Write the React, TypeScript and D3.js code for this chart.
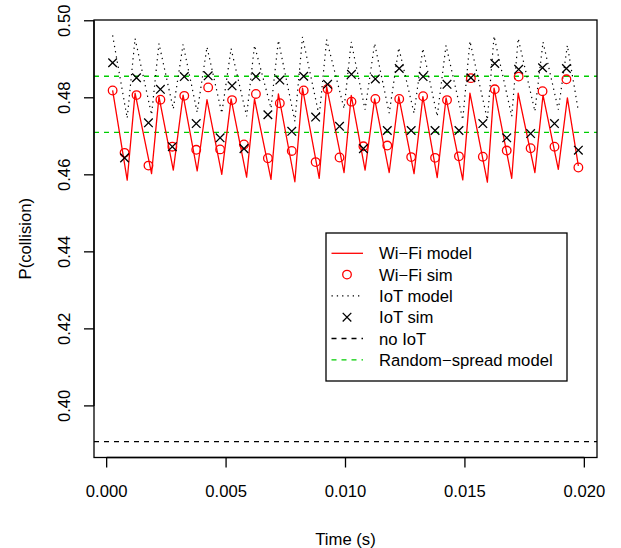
import React from "react";
import * as d3 from "d3";

// ---------- data ----------
const xTicks = [0, 0.005, 0.01, 0.015, 0.02];
const xTickLabels = ["0.000", "0.005", "0.010", "0.015", "0.020"];
const yTicks = [0.4, 0.42, 0.44, 0.46, 0.48, 0.5];
const yTickLabels = ["0.40", "0.42", "0.44", "0.46", "0.48", "0.50"];

// model curve vertex times (peak, trough, peak, ... end)
const modelTimes = [
  0.00025, 0.00086, 0.00119, 0.00188, 0.00219, 0.00279, 0.0032, 0.00379, 0.0042, 0.00482,
  0.00521, 0.00586, 0.00619, 0.00688, 0.00719, 0.00788, 0.0082, 0.0089, 0.00921, 0.00994,
  0.01024, 0.01082, 0.01122, 0.01183, 0.01223, 0.01287, 0.01324, 0.01384, 0.01421, 0.01491,
  0.01521, 0.01594, 0.01622, 0.01696, 0.01723, 0.01793, 0.01827, 0.01891, 0.01929, 0.01975,
];
const wifiModel = [
  0.4819, 0.4586, 0.4812, 0.4603, 0.4803, 0.4612, 0.4807, 0.461, 0.4795, 0.4601,
  0.4797, 0.4594, 0.4797, 0.4588, 0.481, 0.4582, 0.4825, 0.4591, 0.4829, 0.4606,
  0.4806, 0.4612, 0.4797, 0.4606, 0.4803, 0.4603, 0.4803, 0.4593, 0.48, 0.4587,
  0.4812, 0.4581, 0.4825, 0.4591, 0.4812, 0.4606, 0.4807, 0.4614, 0.48, 0.4623,
];
const iotModel = [
  0.4962, 0.4747, 0.4954, 0.4756, 0.4941, 0.4771, 0.4939, 0.4762, 0.4932, 0.476,
  0.4928, 0.4752, 0.4936, 0.4773, 0.4949, 0.4739, 0.4958, 0.4752, 0.4951, 0.4772,
  0.4945, 0.4769, 0.4941, 0.476, 0.493, 0.476, 0.4928, 0.4752, 0.4936, 0.4743,
  0.4947, 0.4743, 0.496, 0.4752, 0.4954, 0.4765, 0.4945, 0.4769, 0.4936, 0.4765,
];

const simTimes = [
  0.00025, 0.00075, 0.00125, 0.00175, 0.00225, 0.00275, 0.00325, 0.00375, 0.00425, 0.00475,
  0.00525, 0.00575, 0.00625, 0.00675, 0.00725, 0.00775, 0.00825, 0.00875, 0.00925, 0.00975,
  0.01025, 0.01075, 0.01125, 0.01175, 0.01225, 0.01275, 0.01325, 0.01375, 0.01425, 0.01475,
  0.01525, 0.01575, 0.01625, 0.01675, 0.01725, 0.01775, 0.01825, 0.01875, 0.01925, 0.01975,
];
const wifiSim = [
  0.4819, 0.4657, 0.4807, 0.4624, 0.4795, 0.4673, 0.4805, 0.4665, 0.4827, 0.4666,
  0.4794, 0.4679, 0.481, 0.4643, 0.4786, 0.4662, 0.4819, 0.4633, 0.4823, 0.4645,
  0.479, 0.4674, 0.4797, 0.4676, 0.4797, 0.4646, 0.4804, 0.4644, 0.4794, 0.4648,
  0.4851, 0.4647, 0.4822, 0.4663, 0.4855, 0.4669, 0.4817, 0.4673, 0.4848, 0.4619,
];
const iotSim = [
  0.4891, 0.4644, 0.4852, 0.4735, 0.4822, 0.4673, 0.4855, 0.4733, 0.4857, 0.4696,
  0.4831, 0.4668, 0.4855, 0.4756, 0.4846, 0.4713, 0.4856, 0.475, 0.4835, 0.4726,
  0.4861, 0.4668, 0.4849, 0.4715, 0.4876, 0.4715, 0.4855, 0.4715, 0.4835, 0.4715,
  0.4852, 0.4733, 0.4889, 0.4696, 0.4874, 0.4707, 0.4878, 0.4733, 0.4876, 0.4664,
];
const noIotLevel = [0.3907];
const randomSpreadLevels = [0.4856, 0.471];

const legendLabels = ["Wi\u2212Fi model", "Wi\u2212Fi sim", "IoT model", "IoT sim", "no IoT", "Random\u2212spread model"];

// ---------- layout ----------
const W = 621;
const H = 548;
const box = { left: 94, right: 597, top: 20, bottom: 457.5 };
const FONT = "'Liberation Sans', Arial, Helvetica, sans-serif";
const FS = 16.67;
const RED = "#FF0000";
const GREEN = "#00CD00";

export default function App() {
  const x = d3.scaleLinear().domain([-0.00053, 0.02053]).range([box.left, box.right]);
  const y = d3.scaleLinear().domain([0.3866, 0.5002]).range([box.bottom, box.top]);

  const line = d3
    .line<number>()
    .x((_, i) => x(modelTimes[i]))
    .y((d) => y(d));

  const crossR = 4.3;
  const circR = 4.3;

  const legendX = 326;
  const legendY = 233;
  const legendW = 241;
  const legendH = 148;
  const rowY = (i: number) => 253.3 + i * 21.3;
  const symX0 = 331.5;
  const symX1 = 363;
  const symXC = 347;
  const textX = 379;

  const cross = (cx: number, cy: number, key: string) => (
    <path
      key={key}
      d={`M${cx - crossR},${cy - crossR}L${cx + crossR},${cy + crossR}M${cx - crossR},${cy + crossR}L${cx + crossR},${cy - crossR}`}
      stroke="#000"
      strokeWidth={1.3}
      fill="none"
    />
  );

  return (
    <svg
      width={W}
      height={H}
      style={{ position: "absolute", left: 0, top: 0, background: "#fff" }}
      fontFamily={FONT}
    >
      <rect x={0} y={0} width={W} height={H} fill="#fff" />
      <defs>
        <clipPath id="plotclip">
          <rect x={box.left} y={box.top} width={box.right - box.left} height={box.bottom - box.top} />
        </clipPath>
      </defs>

      <g clipPath="url(#plotclip)">
        {/* no IoT */}
        {noIotLevel.map((v, i) => (
          <line key={"n" + i} x1={box.left} x2={box.right} y1={y(v)} y2={y(v)} stroke="#000" strokeWidth={1.3} strokeDasharray="5,5" />
        ))}
        {/* random spread */}
        {randomSpreadLevels.map((v, i) => (
          <line key={"g" + i} x1={box.left} x2={box.right} y1={y(v)} y2={y(v)} stroke={GREEN} strokeWidth={1.3} strokeDasharray="5,5" />
        ))}
        {/* IoT model dotted */}
        <path d={line(iotModel) || ""} fill="none" stroke="#000" strokeWidth={1.2} strokeDasharray="1.3,4" />
        {/* Wi-Fi model */}
        <path d={line(wifiModel) || ""} fill="none" stroke={RED} strokeWidth={1.3} strokeLinejoin="round" />
        {/* Wi-Fi sim circles */}
        {wifiSim.map((v, i) => (
          <circle key={"c" + i} cx={x(simTimes[i])} cy={y(v)} r={circR} fill="none" stroke={RED} strokeWidth={1.3} />
        ))}
        {/* IoT sim crosses */}
        {iotSim.map((v, i) => cross(x(simTimes[i]), y(v), "x" + i))}
      </g>

      {/* box */}
      <rect x={box.left} y={box.top} width={box.right - box.left} height={box.bottom - box.top} fill="none" stroke="#000" strokeWidth={1.3} />

      {/* x axis */}
      <line x1={x(xTicks[0])} x2={x(xTicks[xTicks.length - 1])} y1={box.bottom} y2={box.bottom} stroke="#000" strokeWidth={1.3} />
      {xTicks.map((t, i) => (
        <g key={"xt" + i}>
          <line x1={x(t)} x2={x(t)} y1={box.bottom} y2={box.bottom + 10} stroke="#000" strokeWidth={1.3} />
          <text x={x(t)} y={496.5} textAnchor="middle" fontSize={FS} fill="#000">
            {xTickLabels[i]}
          </text>
        </g>
      ))}
      <text x={(box.left + box.right) / 2} y={545} textAnchor="middle" fontSize={FS} fill="#000">
        Time (s)
      </text>

      {/* y axis */}
      <line x1={box.left} x2={box.left} y1={y(yTicks[0])} y2={y(yTicks[yTicks.length - 1])} stroke="#000" strokeWidth={1.3} />
      {yTicks.map((t, i) => (
        <g key={"yt" + i}>
          <line x1={box.left - 10} x2={box.left} y1={y(t)} y2={y(t)} stroke="#000" strokeWidth={1.3} />
          <text transform={`translate(70,${y(t)}) rotate(-90)`} textAnchor="middle" fontSize={FS} fill="#000">
            {yTickLabels[i]}
          </text>
        </g>
      ))}
      <text transform={`translate(31,${(box.top + box.bottom) / 2}) rotate(-90)`} textAnchor="middle" fontSize={FS} fill="#000">
        P(collision)
      </text>

      {/* legend */}
      <rect x={legendX} y={legendY} width={legendW} height={legendH} fill="#fff" stroke="#000" strokeWidth={1.3} />
      <line x1={symX0} x2={symX1} y1={rowY(0)} y2={rowY(0)} stroke={RED} strokeWidth={1.3} />
      <circle cx={symXC} cy={rowY(1)} r={circR} fill="none" stroke={RED} strokeWidth={1.3} />
      <line x1={symX0} x2={symX1} y1={rowY(2)} y2={rowY(2)} stroke="#000" strokeWidth={1.2} strokeDasharray="1.3,4" />
      {cross(symXC, rowY(3), "lx")}
      <line x1={symX0} x2={symX1} y1={rowY(4)} y2={rowY(4)} stroke="#000" strokeWidth={1.3} strokeDasharray="5,5" />
      <line x1={symX0} x2={symX1} y1={rowY(5)} y2={rowY(5)} stroke={GREEN} strokeWidth={1.3} strokeDasharray="5,5" />
      {legendLabels.map((l, i) => (
        <text key={"l" + i} x={textX} y={rowY(i) + 6} fontSize={FS} fill="#000">
          {l}
        </text>
      ))}
    </svg>
  );
}
